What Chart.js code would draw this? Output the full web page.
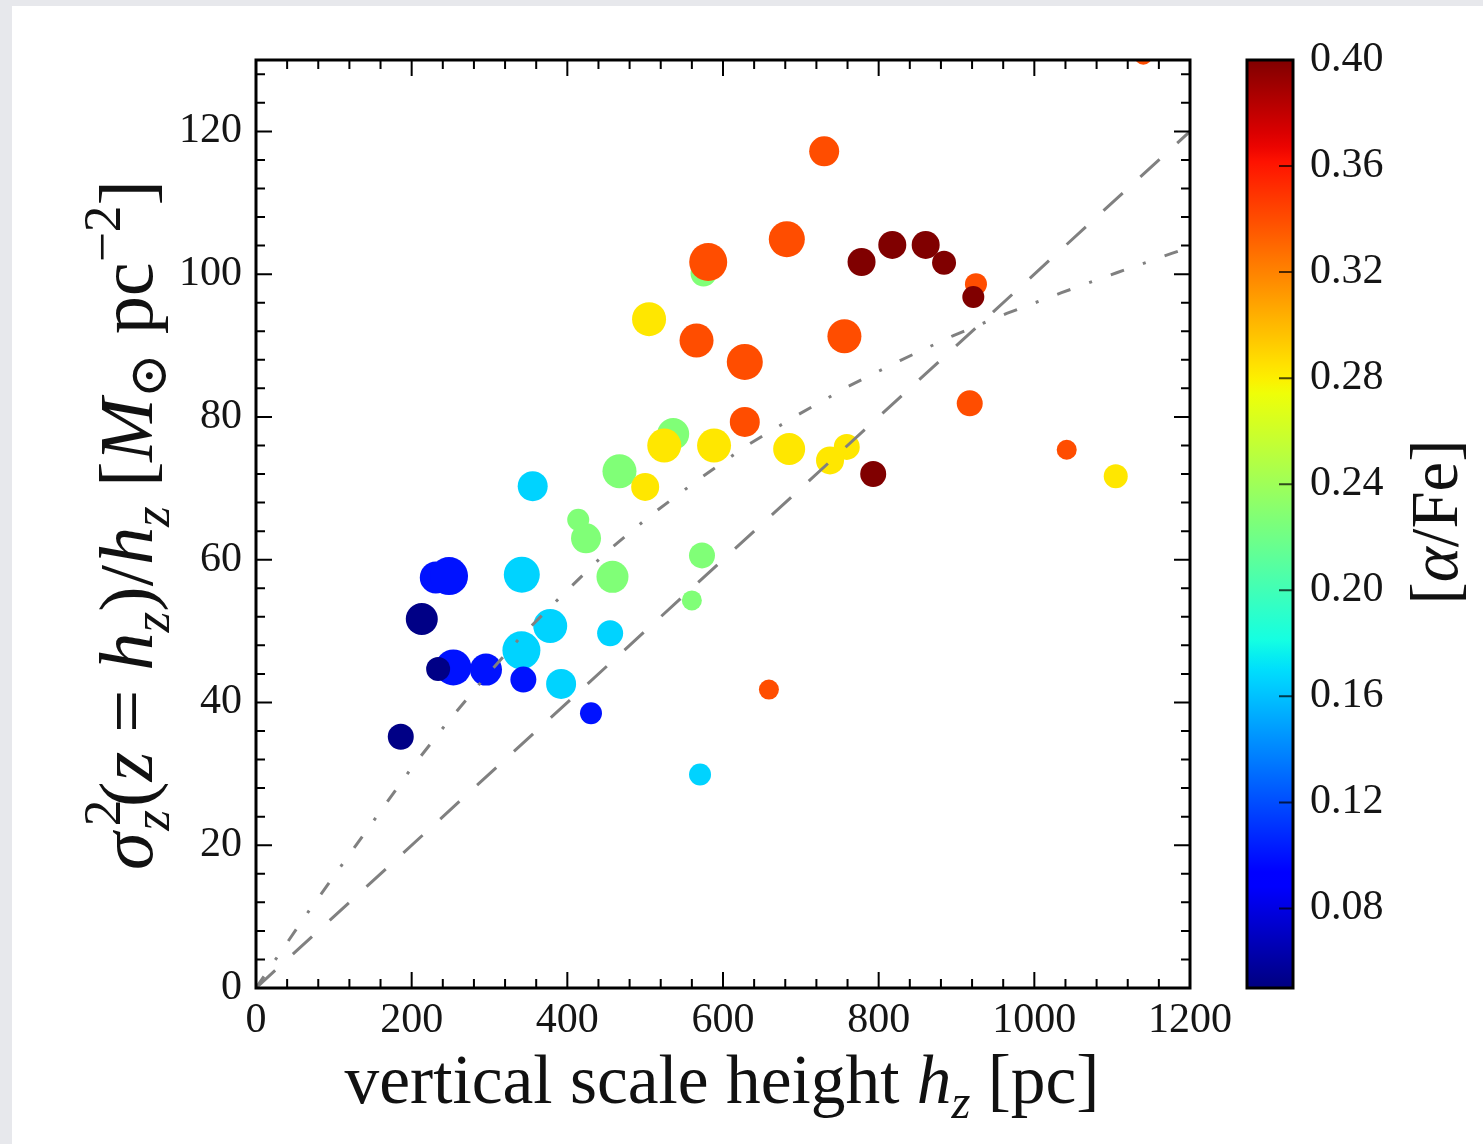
<!DOCTYPE html>
<html>
<head>
<meta charset="utf-8">
<title>Vertical scale height vs surface density</title>
<script src="https://cdn.jsdelivr.net/npm/chart.js@4.4.1/dist/chart.umd.min.js"></script>
<style>
  html, body { margin: 0; padding: 0; background: #e7e8ec; }
  #wrap { width: 1483px; height: 1144px; }
</style>
</head>
<body>
<div id="wrap"><canvas id="hzChart" width="1483" height="1144"></canvas></div>
<script>
// mono-abundance populations: vertical scale height [pc],
// sigma_z^2(z=h_z)/h_z [Msun pc^-2] and mean [alpha/Fe]
const hz = [1140, 730, 682, 575, 581, 778, 817.5, 860.4, 884, 925,
            921.6, 505, 566, 756, 628, 917, 628, 536, 524.5, 588.5,
            685, 759, 737.5, 793, 1041.6, 1104.6, 467, 500, 355.5, 414,
            424, 231, 248, 341.5, 458, 573, 560, 213, 378, 455,
            341, 253.5, 234, 295.5, 343.5, 392, 430.4, 186, 659, 570.5];
const surfDens = [130.6, 117.2, 104.9, 100.1, 101.7, 101.7, 104.1, 104.1, 101.6, 98.6,
                  96.8, 93.7, 90.7, 91.3, 87.7, 81.9, 79.3, 77.6, 76.0, 76.0,
                  75.5, 75.8, 73.9, 72.0, 75.4, 71.7, 72.4, 70.2, 70.3, 65.6,
                  63.0, 57.5, 57.7, 57.9, 57.6, 60.6, 54.3, 51.7, 50.7, 49.7,
                  47.3, 44.9, 44.7, 44.6, 43.2, 42.6, 38.5, 35.2, 41.8, 29.9];
const alphaFe = [0.34, 0.34, 0.34, 0.227, 0.34, 0.40, 0.40, 0.40, 0.40, 0.34,
                 0.40, 0.283, 0.34, 0.34, 0.34, 0.34, 0.34, 0.227, 0.283, 0.283,
                 0.283, 0.283, 0.283, 0.40, 0.34, 0.283, 0.227, 0.283, 0.166, 0.227,
                 0.227, 0.10, 0.10, 0.166, 0.227, 0.227, 0.227, 0.052, 0.166, 0.166,
                 0.166, 0.10, 0.052, 0.10, 0.10, 0.166, 0.10, 0.052, 0.34, 0.166];

// marker radius in px for each population
const radii = [9, 15, 18, 13, 19, 14, 14, 14, 12, 11,
               11, 17, 17, 17, 18, 13, 15, 16, 17, 17,
               16, 13, 14, 13, 10, 12, 17, 14, 15, 11,
               15, 16, 19, 18, 16, 13, 10, 16, 17, 13,
               19, 18, 12, 16, 13, 15, 11, 13, 10, 11];

// reference relations
const dashedHz = [0, 1200];
const dashedSurf = [0, 120];
const dashDotHz = [0, 68, 199, 245.8, 293.4, 343.5, 397, 450.6, 508, 568,
                   630.5, 694.7, 759.7, 827.5, 896, 964.6, 1035, 1105.8, 1176.5, 1200];
const dashDotSurf = [0, 10.8, 30.7, 37.2, 43.4, 49.6, 55.4, 61.1, 66.3, 71.2,
                     76.0, 80.2, 84.2, 87.9, 91.4, 94.5, 97.4, 100.2, 102.9, 103.8];

const xTicks = [0, 200, 400, 600, 800, 1000, 1200];
const yTicks = [0, 20, 40, 60, 80, 100, 120];
const cbTicks = [0.08, 0.12, 0.16, 0.20, 0.24, 0.28, 0.32, 0.36, 0.40];
const cbMin = 0.05, cbMax = 0.40;

const SERIF = "'Liberation Serif', 'DejaVu Serif', serif";

// matplotlib "jet" colormap
const JET = {
  r: [[0, 0], [0.35, 0], [0.66, 1], [0.89, 1], [1, 0.5]],
  g: [[0, 0], [0.125, 0], [0.375, 1], [0.64, 1], [0.91, 0], [1, 0]],
  b: [[0, 0.5], [0.11, 1], [0.34, 1], [0.65, 0], [1, 0]]
};
function interp(segs, t) {
  for (let i = 1; i < segs.length; i++) {
    if (t <= segs[i][0]) {
      const [x0, y0] = segs[i - 1], [x1, y1] = segs[i];
      return y0 + (y1 - y0) * (t - x0) / (x1 - x0);
    }
  }
  return segs[segs.length - 1][1];
}
function jetT(t) {
  const c = k => Math.round(255 * interp(JET[k], Math.min(1, Math.max(0, t))));
  return `rgb(${c('r')},${c('g')},${c('b')})`;
}
function jet(v) {
  return jetT((v - cbMin) / (cbMax - cbMin));
}

// draws a run of text pieces (roman / italic / sub / sup) along a baseline
function drawMath(ctx, runs, x, y, angle, size, targetLen) {
  const measure = s => {
    let w = 0, total = 0;
    const items = runs.map(r => {
      const fs = s * (r.scale || 1);
      const font = `${r.it ? 'italic ' : ''}${fs}px ${SERIF}`;
      ctx.font = font;
      const width = ctx.measureText(r.t).width;
      const item = { t: r.t, font, x: w + (r.kern || 0) * s, dy: (r.dy || 0) * s };
      if (!r.stack) w += width + (r.kern || 0) * s;
      total = Math.max(total, item.x + width);
      return item;
    });
    return { items, w: total };
  };
  let m = measure(size);
  if (targetLen) { size = size * targetLen / m.w; m = measure(size); }
  ctx.save();
  ctx.translate(x, y);
  ctx.rotate(angle);
  ctx.fillStyle = '#111';
  ctx.textBaseline = 'alphabetic';
  ctx.textAlign = 'left';
  const x0 = -m.w / 2;
  m.items.forEach(it => {
    ctx.font = it.font;
    ctx.fillText(it.t, x0 + it.x, -it.dy);
  });
  ctx.restore();
}

const framePlugin = {
  id: 'frame',
  beforeDraw(chart) {
    const ctx = chart.ctx;
    ctx.save();
    ctx.fillStyle = '#e7e8ec';
    ctx.fillRect(0, 0, chart.width, chart.height);
    ctx.fillStyle = '#ffffff';
    ctx.fillRect(12, 6, chart.width - 12, chart.height - 6);
    ctx.restore();
  },
  afterDraw(chart) {
    const ctx = chart.ctx;
    const { left, right, top, bottom } = chart.chartArea;
    const xs = chart.scales.x, ys = chart.scales.y, cb = chart.scales.cb;
    ctx.save();

    // inward ticks on all four sides, minor every 40 pc / 4 units
    ctx.strokeStyle = '#000';
    ctx.lineWidth = 2;
    ctx.beginPath();
    for (let v = 0; v <= 1200; v += 40) {
      const px = xs.getPixelForValue(v);
      const len = v % 200 === 0 ? 16 : 9;
      ctx.moveTo(px, bottom); ctx.lineTo(px, bottom - len);
      ctx.moveTo(px, top); ctx.lineTo(px, top + len);
    }
    for (let v = 0; v <= 130; v += 4) {
      const py = ys.getPixelForValue(v);
      const len = v % 20 === 0 ? 16 : 9;
      ctx.moveTo(left, py); ctx.lineTo(left + len, py);
      ctx.moveTo(right, py); ctx.lineTo(right - len, py);
    }
    ctx.stroke();

    ctx.lineWidth = 3;
    ctx.strokeRect(left, top, right - left, bottom - top);

    // colour bar
    const cbL = 1247, cbR = 1293;
    const cbTop = cb.getPixelForValue(cbMax), cbBot = cb.getPixelForValue(cbMin);
    const grad = ctx.createLinearGradient(0, cbBot, 0, cbTop);
    for (let i = 0; i <= 64; i++) grad.addColorStop(i / 64, jetT(i / 64));
    ctx.fillStyle = grad;
    ctx.fillRect(cbL, cbTop, cbR - cbL, cbBot - cbTop);
    ctx.strokeStyle = 'rgba(0,0,0,0.7)';
    ctx.lineWidth = 2;
    ctx.beginPath();
    cbTicks.forEach(v => {
      const py = cb.getPixelForValue(v);
      ctx.moveTo(cbR, py); ctx.lineTo(cbR - 14, py);
    });
    ctx.stroke();
    ctx.strokeStyle = '#000';
    ctx.lineWidth = 3;
    ctx.strokeRect(cbL, cbTop, cbR - cbL, cbBot - cbTop);
    ctx.restore();

    // axis titles
    drawMath(ctx, [
      { t: 'vertical scale height ' },
      { t: 'h', it: true },
      { t: 'z', it: true, scale: 0.7, dy: -0.22 },
      { t: ' [pc]' }
    ], 722, 1103, 0, 58, 755);

    drawMath(ctx, [
      { t: 'σ', it: true },
      { t: '2', scale: 0.7, dy: 0.42, stack: true, kern: 0.08 },
      { t: 'z', it: true, scale: 0.7, dy: -0.22, kern: 0.02 },
      { t: '(', kern: 0.04 },
      { t: 'z', it: true },
      { t: ' = ' },
      { t: 'h', it: true },
      { t: 'z', it: true, scale: 0.7, dy: -0.22 },
      { t: ')/' },
      { t: 'h', it: true },
      { t: 'z', it: true, scale: 0.7, dy: -0.22 },
      { t: ' [' },
      { t: 'M', it: true },
      { t: '⊙', scale: 0.7, dy: -0.18 },
      { t: ' pc' },
      { t: '−2', scale: 0.7, dy: 0.42 },
      { t: ']' }
    ], 152, 525, -Math.PI / 2, 58, 690);

    drawMath(ctx, [
      { t: '[' },
      { t: 'α', it: true },
      { t: '/Fe]' }
    ], 1457, 522, -Math.PI / 2, 58, 165);
  }
};

const tickFont = { family: SERIF, size: 42, lineHeight: 1.2 };

new Chart(document.getElementById('hzChart'), {
  type: 'scatter',
  data: {
    datasets: [
      {
        label: 'dashed',
        type: 'line',
        data: dashedHz.map((x, i) => ({ x, y: dashedSurf[i] })),
        borderColor: '#808080',
        borderWidth: 3,
        borderDash: [26, 24],
        pointRadius: 0,
        fill: false,
        tension: 0,
        order: 0,
        clip: 0
      },
      {
        label: 'dash-dot',
        type: 'line',
        data: dashDotHz.map((x, i) => ({ x, y: dashDotSurf[i] })),
        borderColor: '#808080',
        borderWidth: 3,
        borderDash: [14, 20, 3, 20],
        pointRadius: 0,
        fill: false,
        tension: 0,
        order: 0,
        clip: 0
      },
      {
        label: 'MAPs',
        data: hz.map((x, i) => ({ x, y: surfDens[i] })),
        backgroundColor: alphaFe.map(jet),
        pointRadius: radii,
        pointHoverRadius: radii,
        pointBorderWidth: 0,
        order: 1,
        clip: 0
      }
    ]
  },
  options: {
    responsive: false,
    animation: false,
    devicePixelRatio: 1,
    events: [],
    layout: { padding: { top: 60, left: 0, right: 0, bottom: 0 } },
    plugins: { legend: { display: false }, tooltip: { enabled: false } },
    scales: {
      x: {
        type: 'linear', position: 'bottom', min: 0, max: 1200,
        afterBuildTicks: s => { s.ticks = xTicks.map(v => ({ value: v })); },
        afterFit: s => { s.height = 156; },
        grid: { display: false, drawTicks: false },
        border: { display: false },
        ticks: { font: tickFont, color: '#151515', padding: 8, maxRotation: 0, autoSkip: false, callback: v => String(v) }
      },
      y: {
        type: 'linear', position: 'left', min: 0, max: 130,
        afterBuildTicks: s => { s.ticks = yTicks.map(v => ({ value: v })); },
        afterFit: s => { s.width = 256; s.paddingTop = 10; s.paddingBottom = 10; },
        grid: { display: false, drawTicks: false },
        border: { display: false },
        ticks: { font: tickFont, color: '#151515', padding: 14, autoSkip: false, callback: v => String(v) }
      },
      cb: {
        type: 'linear', position: 'right', axis: 'y', min: cbMin, max: cbMax,
        afterBuildTicks: s => { s.ticks = cbTicks.map(v => ({ value: v })); },
        afterFit: s => { s.width = 293; s.paddingTop = 10; s.paddingBottom = 10; },
        grid: { display: false, drawTicks: false },
        border: { display: false },
        ticks: { font: tickFont, color: '#151515', padding: 120, autoSkip: false, callback: v => v.toFixed(2) }
      }
    }
  },
  plugins: [framePlugin]
});
</script>
</body>
</html>
